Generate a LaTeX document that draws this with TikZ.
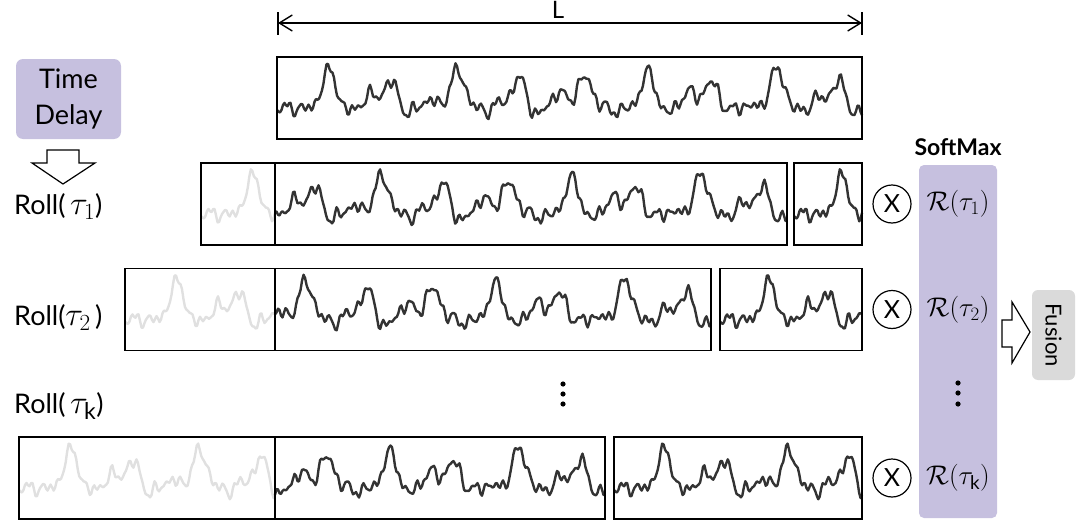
\RequirePackage{fix-cm}
\documentclass[tikz,border=0pt]{standalone}
\usepackage{fontspec}
\setmainfont{Lato}
\usetikzlibrary{arrows.meta}
\definecolor{lav}{HTML}{C6C0DF}
\definecolor{fus}{HTML}{DADADA}
\definecolor{wdark}{HTML}{333333}
\definecolor{wgrey}{HTML}{E0E0E0}
\newcommand{\bigtau}[1]{{\fontsize{33}{36}\selectfont$\tau_{#1}$}}
\begin{document}
\begin{tikzpicture}[x=1pt,y=-1pt,
  declare function={wv(\t,\p,\h)=sin((mod(\t,\p)/\p)*360+\h);
    ts(\t)=0.5*wv(\t,64,0)+0.3*wv(\t,32,40)+0.2*wv(\t,21.3,120)+0.2*wv(\t,45,200)+0.15*wv(\t,110,30)+0.14*wv(\t,13.9,15)+0.11*wv(\t,8.72,60)+0.08*wv(\t,6.11,200);},
  box/.style={draw=black, line width=1.4pt, inner sep=0pt, minimum height=82pt},
  wave/.style={draw=wdark, line width=2.4pt, line join=round},
  gwave/.style={draw=wgrey, line width=2.4pt, line join=round},
  lbl/.style={font=\fontsize{27}{30}\selectfont, inner sep=0pt, anchor=west},
  rlbl/.style={font=\fontsize{27}{30}\selectfont, inner sep=0pt},
  mult/.style={circle, draw, line width=1.2pt, minimum size=38pt, inner sep=0pt, font=\fontsize{25}{28}\selectfont},
  blockarrow/.style={draw=black, line width=1.2pt, fill=white, line join=miter},
  dot/.style={fill=black},
]
\useasboundingbox (0,0) rectangle (1080,530);

% L dimension arrow
\coordinate (Lleft) at (278,23);
\coordinate (Lright) at (862,23);
\draw[line width=1.4pt, {Straight Barb[length=13pt,width=16pt]}-{Straight Barb[length=13pt,width=16pt]}] (Lleft) -- (Lright);
\draw[line width=1.6pt] (278,12) -- (278,35);
\draw[line width=1.6pt] (862,12) -- (862,35);
\node[font=\fontsize{24}{26}\selectfont, anchor=base, inner sep=0pt] (Llbl) at (558,18) {L};

% Time delay
\node[fill=lav, rounded corners=7pt, minimum width=105pt, minimum height=80pt, align=center, font=\fontsize{27}{36}\selectfont] (td) at (68.5,99) {Time\\Delay};
\draw[blockarrow] (47,150) -- (79,150) -- (79,163) -- (95,163) -- (63,184) -- (32,163) -- (47,163) -- cycle;

% Roll labels
\node[lbl] (roll1) at (14,207) {Roll(\,\bigtau{1})};
\node[lbl] (roll2) at (14,318) {Roll(\bigtau{2}\,)};
\node[lbl] (rollk) at (14,406) {Roll(\,\bigtau{\mathrm{k}})};

% waves: top
\draw[wave] plot[domain=0:585,samples=391] ({277+\x},{98+25*ts(\x)});
% row 1
\draw[gwave] plot[domain=0:74,samples=50] ({201+\x},{204+25*ts(\x)});
\draw[wave] plot[domain=74:586,samples=342] ({201+\x},{204+25*ts(\x)});
\draw[wave] plot[domain=0:74,samples=50] ({794+\x*0.9189},{204+25*ts(\x)});
% row 2
\draw[gwave] plot[domain=0:150,samples=101] ({125+\x},{309.5+25*ts(\x)});
\draw[wave] plot[domain=150:586,samples=291] ({125+\x},{309.5+25*ts(\x)});
\draw[wave] plot[domain=0:150,samples=101] ({720+\x*0.9467},{309.5+25*ts(\x)});
% row k
\draw[gwave] plot[domain=0:256,samples=171] ({19+\x},{478+25*ts(\x)});
\draw[wave] plot[domain=256:586,samples=221] ({19+\x},{478+25*ts(\x)});
\draw[wave] plot[domain=0:256,samples=171] ({614+\x*0.96875},{478+25*ts(\x)});

% boxes
\node[box, minimum width=585pt] (t0) at (569.5,98) {};
\node[box, minimum width=586pt] (r1) at (494,204) {};
\node[box, minimum width=68pt] (s1) at (828,204) {};
\node[box, minimum width=586pt] (r2) at (418,309.5) {};
\node[box, minimum width=142pt] (s2) at (791,309.5) {};
\node[box, minimum width=586pt] (rk) at (312,478) {};
\node[box, minimum width=248pt] (sk) at (738,478) {};
\draw[line width=1.4pt] (275,163) -- (275,245);
\draw[line width=1.4pt] (275,268) -- (275,351);
\draw[line width=1.4pt] (275,437) -- (275,519);

% middle dots
\fill[dot] (563,384) circle (2.6);
\fill[dot] (563,394) circle (2.6);
\fill[dot] (563,404) circle (2.6);

% multiplications
\node[mult] (x1) at (892,204) {X};
\node[mult] (x2) at (892,309.5) {X};
\node[mult] (xk) at (892,478) {X};

% softmax
\node[fill=lav, rounded corners=5pt, minimum width=78pt, minimum height=353pt, inner sep=0pt] (sm) at (958,341.5) {};
\node[font=\bfseries\fontsize{23}{26}\selectfont, inner sep=0pt] (smlbl) at (958,147) {SoftMax};
\node[rlbl] (R1) at (958,204) {$\mathcal{R}(\tau_1)$};
\node[rlbl] (R2) at (958,309.5) {$\mathcal{R}(\tau_2)$};
\node[rlbl] (Rk) at (958,478) {$\mathcal{R}(\tau_\mathrm{k})$};
\fill[dot] (958,383) circle (2.6);
\fill[dot] (958,393) circle (2.6);
\fill[dot] (958,404) circle (2.6);

% fusion
\draw[blockarrow] (1002,320) -- (1012,320) -- (1012,302) -- (1030,332) -- (1012,363) -- (1012,347) -- (1002,347) -- cycle;
\node[fill=fus, rounded corners=6pt, rotate=-90, minimum width=90pt, minimum height=43pt, inner sep=0pt, font=\fontsize{22}{26}\selectfont] (fusion) at (1053.5,335) {Fusion};
\end{tikzpicture}
\end{document}
